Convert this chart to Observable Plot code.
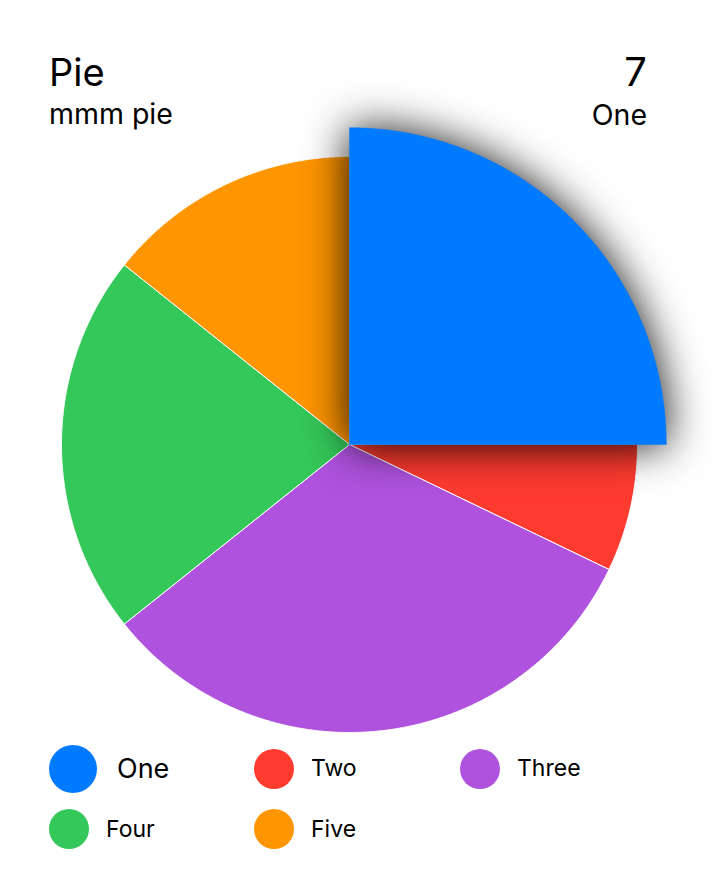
<!DOCTYPE html>
<html>
<head>
<meta charset="utf-8">
<script src="https://cdn.jsdelivr.net/npm/d3@7"></script>
<script src="https://cdn.jsdelivr.net/npm/@observablehq/plot@0.6"></script>
<style>
  html, body { margin: 0; padding: 0; background: #fff; }
  body { width: 724px; height: 896px; overflow: hidden; font-family: Inter, "Noto Sans", sans-serif; color: #000; }
  #wrap { position: relative; width: 724px; height: 896px; }
  .t { position: absolute; white-space: nowrap; }
  #chart { position: absolute; left: 0; top: 100px; }
  #header { position: absolute; left: 0; top: 0; width: 724px; height: 140px; z-index: 2; }
  .dot { position: absolute; border-radius: 50%; }
</style>
</head>
<body>
<div id="wrap">
  <div id="header"></div>
  <div id="chart"></div>
  <div id="legend"></div>
</div>
<script>
// ---- data ----
const categories = ["One", "Two", "Three", "Four", "Five"];
const values = [7, 2, 9, 6, 4];
const colors = ["#007AFF", "#FF3B30", "#AF52DE", "#34C759", "#FF9500"];
const title = "Pie";
const subtitle = "mmm pie";
const selected = "One";

// ---- layout constants ----
const R = 288;          // pie radius (px)
const grow = 1.1;       // selected slice scale

const rows = categories.map((name, i) => ({name, value: values[i], color: colors[i]}));
const arcs = d3.pie().sort(null).value(d => d.value)(rows);

function slicePoints(a, r) {
  const pts = [{name: a.data.name, x: 0, y: 0}];
  const n = Math.max(2, Math.ceil((a.endAngle - a.startAngle) / (Math.PI / 720)));
  for (let k = 0; k <= n; k++) {
    const t = a.startAngle + (a.endAngle - a.startAngle) * k / n;
    pts.push({name: a.data.name, x: r * Math.sin(t), y: r * Math.cos(t)});
  }
  pts.push({name: a.data.name, x: 0, y: 0});
  return pts;
}

const otherPts = arcs.filter(a => a.data.name !== selected).flatMap(a => slicePoints(a, R));
const selPts = arcs.filter(a => a.data.name === selected).flatMap(a => slicePoints(a, R * grow));

const chart = Plot.plot({
  width: 724,
  height: 650,
  margin: 0,
  x: {domain: [-349, 375], axis: null},
  y: {domain: [-306, 344], axis: null},
  color: {domain: categories, range: colors},
  style: {overflow: "visible", background: "transparent"},
  marks: [
    Plot.line(otherPts, {x: "x", y: "y", z: "name", fill: "name", stroke: "white", strokeWidth: 1, curve: "linear"}),
    Plot.line(selPts, {x: "x", y: "y", z: "name", fill: "name", stroke: "name", strokeWidth: 0.5, curve: "linear"})
  ]
});
document.getElementById("chart").appendChild(chart);
const markGroups = chart.querySelectorAll(":scope > g");
const selG = markGroups[markGroups.length - 1];
if (selG) selG.style.filter = "drop-shadow(0px 1px 22px rgba(0,0,0,0.95))";

// ---- header ----
const selRow = rows.find(r => r.name === selected);
const header = document.getElementById("header");
function addText(parent, txt, css) {
  const d = document.createElement("div");
  d.className = "t";
  d.textContent = txt;
  Object.assign(d.style, css);
  parent.appendChild(d);
  return d;
}
addText(header, title, {left: "49px", top: "53px", fontSize: "38px", lineHeight: "38px"});
addText(header, subtitle, {left: "49px", top: "100px", fontSize: "28.5px", lineHeight: "28.5px"});
addText(header, String(selRow.value), {right: "77px", top: "52px", fontSize: "40px", lineHeight: "40px"});
addText(header, selRow.name, {right: "77px", top: "101px", fontSize: "28.5px", lineHeight: "28.5px"});

// ---- legend ----
const legend = document.getElementById("legend");
const colX = [49, 254, 460];
const rowY = [768.5, 829];
rows.forEach((r, i) => {
  const cx = colX[i % 3], cy = rowY[Math.floor(i / 3)];
  const isSel = r.name === selected;
  const d = isSel ? 48 : 40;
  const dot = document.createElement("div");
  dot.className = "dot";
  Object.assign(dot.style, {left: cx + "px", top: (cy - d / 2) + "px", width: d + "px", height: d + "px", background: r.color});
  legend.appendChild(dot);
  const fs = isSel ? 27 : 23;
  addText(legend, r.name, {
    left: (cx + d + (isSel ? 20 : 17)) + "px",
    top: (cy - fs / 2 - (isSel ? 0.5 : 0)) + "px",
    fontSize: fs + "px",
    lineHeight: fs + "px"
  });
});
</script>
</body>
</html>
